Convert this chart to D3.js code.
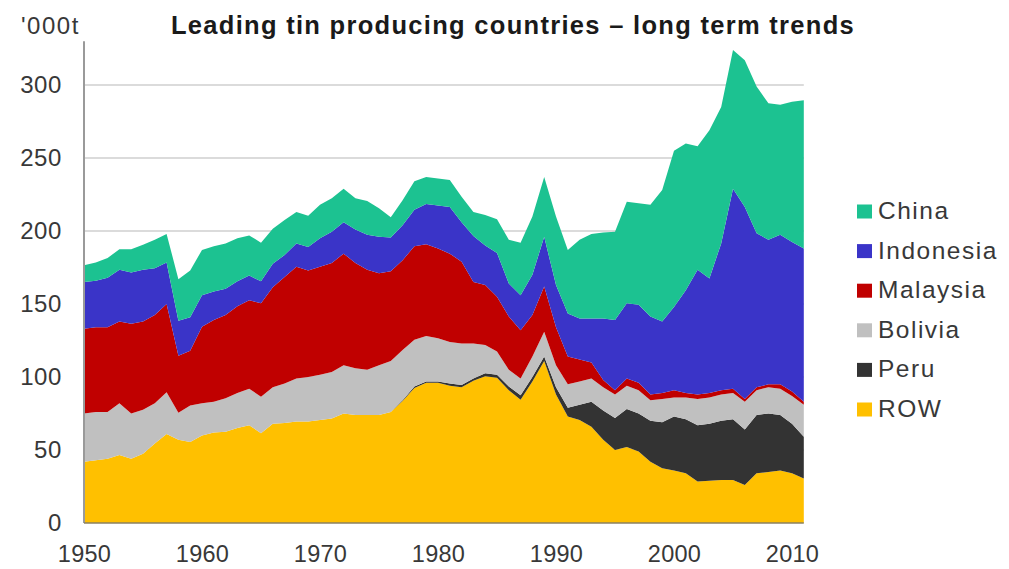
<!DOCTYPE html>
<html>
<head>
<meta charset="utf-8">
<script src="https://cdn.jsdelivr.net/npm/d3@7"></script>
<style>
  html, body { margin: 0; padding: 0; background: #fff; }
  svg { display: block; font-family: "Liberation Sans", Arial, sans-serif; }
</style>
</head>
<body>
<svg id="chart" width="1009" height="569"></svg>
<script>
// Annual tin production, '000 tonnes, 1950-2011
const years = d3.range(1950, 2012);

const row = [42, 43, 44, 46.5, 44, 47.5, 54.5, 61, 57, 55.5,
  60, 62, 62.5, 65, 67, 61.5, 68, 68.5, 69.5, 69.5,
  70.5, 71.5, 75, 74, 74, 74, 76, 83.5, 92.5, 96,
  96, 94, 93, 97.5, 100.5, 99.5, 91, 84.5, 97, 111,
  88, 73, 70.5, 66, 57, 50, 52, 49, 42, 37.5,
  36, 34, 28.5, 29, 29.5, 29.5, 26, 34, 35, 36,
  34, 30.5];

const peru = [0, 0, 0, 0, 0, 0, 0, 0, 0, 0,
  0, 0, 0, 0, 0, 0, 0, 0, 0, 0,
  0, 0, 0, 0, 0, 0, 0, 0.5, 1, 1,
  1, 1.5, 1.5, 1.5, 2, 2, 2.5, 3, 3, 3,
  5, 6, 10.5, 17, 20, 22, 26, 26, 28, 31.5,
  37, 37, 38.5, 39, 40.5, 41.5, 38, 40, 40, 38,
  34, 28.5];

const bolivia = [33, 33, 32, 35.5, 31, 30, 27.5, 28.5, 18.5, 25,
  22, 21, 23, 24, 25, 25, 25, 27, 29.5, 30.5,
  31, 32, 33, 32, 31, 34, 35, 34.5, 32, 31,
  29.5, 28.5, 28.5, 24, 19.5, 16, 11.5, 11.5, 14, 17,
  15, 16, 16, 16, 16, 16, 16, 16, 14, 16,
  13, 15, 18, 18, 18, 18, 19, 17, 18, 18,
  19, 22];

const malaysia = [58, 58, 58, 56, 61.5, 60.5, 60.5, 60.5, 39, 37.5,
  52.5, 56, 57, 59.5, 60.5, 64, 68.5, 73, 76.5, 73,
  74, 74.5, 76.5, 72, 68.5, 63, 61.5, 61.5, 64, 63,
  61.5, 60.5, 56, 42, 41, 37.5, 36.5, 33, 28.5, 31,
  26, 19, 15, 11, 5, 3, 5, 5, 4, 4,
  5, 3, 3, 3, 3, 3, 2, 2, 2, 3,
  3, 2];

const indonesia = [32, 32, 34, 35.5, 35, 35.5, 32, 28.5, 24, 23,
  21.5, 19.5, 18, 17, 17, 15, 16, 15, 16, 16,
  19.5, 21.5, 21.5, 23, 24, 25, 23, 24, 25, 27.5,
  29.5, 32, 27, 31.5, 27, 30, 22.5, 24, 27.5, 34,
  29, 29.5, 28, 30, 42, 48, 51.5, 53.5, 53.5, 49,
  57, 70.5, 85.5, 78.5, 100.5, 137, 131.5, 105.5, 99, 102.5,
  102.5, 105];

const china = [11.5, 12.5, 13.5, 14, 16, 17, 19.5, 19.5, 28.5, 32,
  31, 31, 31, 29.5, 27.5, 26.5, 24, 24, 21.5, 21.5,
  23, 23, 23, 21.5, 23, 19.5, 14, 17, 19.5, 18.5,
  18.5, 18.5, 17.5, 16.5, 21, 23, 30, 36, 40, 41,
  47, 43.5, 54, 58, 59, 60.5, 69.5, 69.5, 76.5, 90,
  107, 100.5, 84.5, 101.5, 93.5, 95, 100.5, 100.5, 93.5, 89,
  96, 101.5];

const seriesNames = ["ROW", "Peru", "Bolivia", "Malaysia", "Indonesia", "China"];
const seriesColors = ["#ffc000", "#333333", "#c0c0c0", "#c00000", "#3a34c8", "#1cc291"];
const legendOrder = ["China", "Indonesia", "Malaysia", "Bolivia", "Peru", "ROW"];
const yTicks = [0, 50, 100, 150, 200, 250, 300];
const xTicks = [1950, 1960, 1970, 1980, 1990, 2000, 2010];

const titleText = "Leading tin producing countries \u2013 long term trends";
const unitText = "'000t";

// Build row records for the stack layout
const valuesBySeries = { ROW: row, Peru: peru, Bolivia: bolivia, Malaysia: malaysia, Indonesia: indonesia, China: china };
const table = years.map((yr, i) => {
  const rec = { year: yr };
  seriesNames.forEach(k => rec[k] = valuesBySeries[k][i]);
  return rec;
});

const svg = d3.select("#chart");
const x = d3.scaleLinear().domain([1950, 2011]).range([84, 803.8]);
const y = d3.scaleLinear().domain([0, 330]).range([523, 41.2]);
const color = d3.scaleOrdinal().domain(seriesNames).range(seriesColors);

const textColor = "#383838";

// Horizontal gridlines
svg.append("g")
  .selectAll("line")
  .data(yTicks.filter(d => d > 0))
  .join("line")
  .attr("x1", x(1950)).attr("x2", x(2011))
  .attr("y1", d => y(d)).attr("y2", d => y(d))
  .attr("stroke", "#cfcfcf")
  .attr("stroke-width", 1.6);

// Stacked areas
const stacked = d3.stack().keys(seriesNames)(table);
const area = d3.area()
  .x(d => x(d.data.year))
  .y0(d => y(d[0]))
  .y1(d => y(d[1]));

svg.append("g")
  .selectAll("path")
  .data(stacked)
  .join("path")
  .attr("d", area)
  .attr("fill", d => color(d.key));

// Axis lines
svg.append("line")
  .attr("x1", x(1950)).attr("x2", x(1950))
  .attr("y1", y(330)).attr("y2", y(0))
  .attr("stroke", "#9a9a9a").attr("stroke-width", 2);
svg.append("line")
  .attr("x1", x(1950)).attr("x2", x(2011))
  .attr("y1", y(0)).attr("y2", y(0))
  .attr("stroke", "#8a8060").attr("stroke-width", 1.5);

// Y axis labels
const yAxis = svg.append("g")
  .attr("transform", `translate(${x(1950)},0)`)
  .call(d3.axisLeft(y).tickValues(yTicks).tickSize(0).tickPadding(22).tickFormat(d3.format("d")));
yAxis.select(".domain").remove();
yAxis.selectAll("text")
  .attr("font-size", 24)
  .attr("letter-spacing", 0.6)
  .attr("font-family", "Liberation Sans, Arial, sans-serif")
  .attr("fill", textColor);

// X axis labels
const xAxis = svg.append("g")
  .attr("transform", `translate(0,${y(0)})`)
  .call(d3.axisBottom(x).tickValues(xTicks).tickSize(0).tickPadding(22).tickFormat(d3.format("d")));
xAxis.select(".domain").remove();
xAxis.selectAll("text")
  .attr("font-size", 23.5)
  .attr("letter-spacing", 0.3)
  .attr("font-family", "Liberation Sans, Arial, sans-serif")
  .attr("fill", textColor);

// Title and unit
svg.append("text")
  .attr("x", 513).attr("y", 33.5)
  .attr("text-anchor", "middle")
  .attr("font-size", 25.5)
  .attr("font-weight", "bold")
  .attr("letter-spacing", 1.3)
  .attr("fill", "#1a1a1a")
  .text(titleText);

svg.append("text")
  .attr("x", 21).attr("y", 33.5)
  .attr("font-size", 24)
  .attr("letter-spacing", 1.5)
  .attr("fill", textColor)
  .text(unitText);

// Legend
const legend = svg.append("g")
  .selectAll("g")
  .data(legendOrder)
  .join("g")
  .attr("transform", (d, i) => `translate(857,${219 + i * 39.6})`);

legend.append("rect")
  .attr("x", 0).attr("y", -14.5)
  .attr("width", 15).attr("height", 14)
  .attr("fill", d => color(d));

legend.append("text")
  .attr("x", 21).attr("y", 0)
  .attr("font-size", 24.5)
  .attr("letter-spacing", 1.5)
  .attr("fill", textColor)
  .text(d => d);
</script>
</body>
</html>
